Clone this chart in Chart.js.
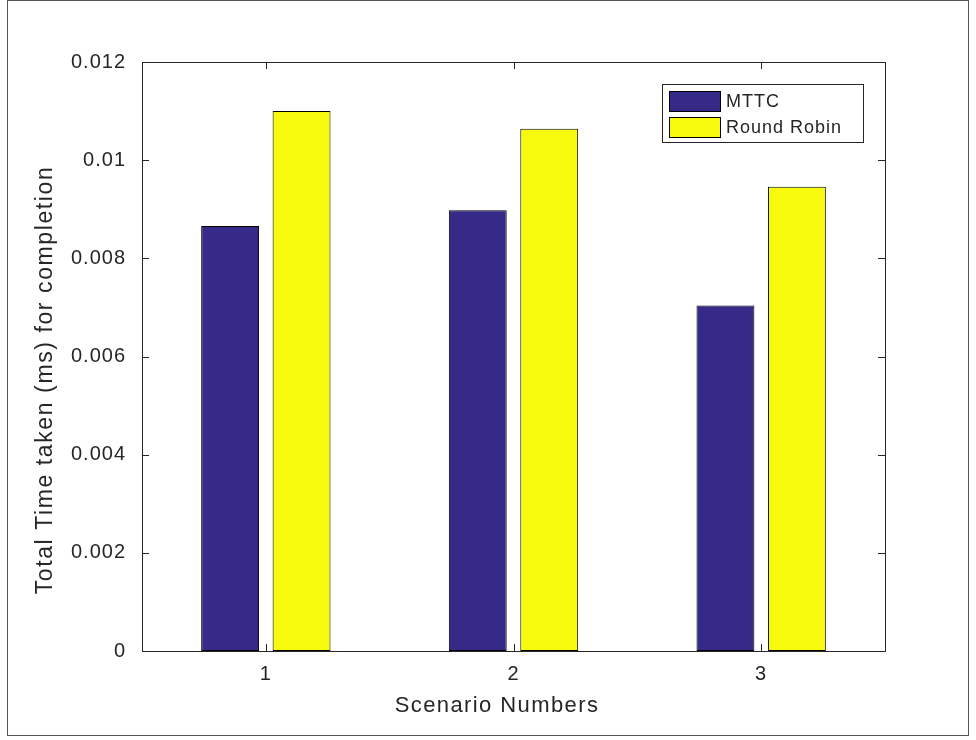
<!DOCTYPE html>
<html>
<head>
<meta charset="utf-8">
<script src="https://cdn.jsdelivr.net/npm/chart.js@4"></script>
<style>
  html, body { margin: 0; padding: 0; background: #ffffff; }
  #wrap { width: 976px; height: 740px; position: relative; }
</style>
</head>
<body>
<div id="wrap"><canvas id="c" width="976" height="740"></canvas></div>
<script>
// ---- data ----
const categories = ['1', '2', '3'];
const seriesNames = ['MTTC', 'Round Robin'];
const mttcValues = [0.00866, 0.00898, 0.00704];
const roundRobinValues = [0.0110, 0.01064, 0.00946];
const yTickValues = [0, 0.002, 0.004, 0.006, 0.008, 0.01, 0.012];
const yTickLabels = ['0', '0.002', '0.004', '0.006', '0.008', '0.01', '0.012'];
const xTitle = 'Scenario Numbers';
const yTitle = 'Total Time taken (ms) for completion';

const FONT = "'Liberation Sans', Arial, Helvetica, sans-serif";
const TEXT = '#262626';
const AXIS = '#262626';
const SPACING = '1px';

const spacingPlugin = {
  id: 'spacing',
  beforeLayout(chart) { chart.ctx.letterSpacing = SPACING; },
  beforeDraw(chart) { chart.ctx.letterSpacing = SPACING; }
};

const framePlugin = {
  id: 'frame',
  afterDatasetsDraw(chart) {
    const ctx = chart.ctx;
    const a = chart.chartArea;
    const xs = chart.scales.x, ys = chart.scales.y;
    const tl = 7;
    ctx.save();
    ctx.strokeStyle = AXIS;
    ctx.lineWidth = 1;
    ctx.strokeRect(Math.round(a.left) + 0.5, Math.round(a.top) + 0.5,
                   Math.round(a.right - a.left), Math.round(a.bottom - a.top));
    ctx.beginPath();
    yTickValues.forEach(v => {
      const y = Math.round(ys.getPixelForValue(v)) + 0.5;
      ctx.moveTo(a.left, y); ctx.lineTo(a.left + tl, y);
      ctx.moveTo(a.right, y); ctx.lineTo(a.right - tl, y);
    });
    categories.forEach((c, i) => {
      const x = Math.round(xs.getPixelForValue(i)) + 0.5;
      ctx.moveTo(x, a.bottom); ctx.lineTo(x, a.bottom - tl);
      ctx.moveTo(x, a.top); ctx.lineTo(x, a.top + tl);
    });
    ctx.stroke();

    // outer figure frame
    ctx.strokeStyle = '#555555';
    ctx.strokeRect(7.5, 0.5, 961, 735);

    // axis titles (MATLAB places them slightly off-centre)
    ctx.fillStyle = TEXT;
    ctx.textAlign = 'center';
    ctx.textBaseline = 'middle';
    ctx.font = "22px " + FONT;
    ctx.letterSpacing = '1.4px';
    ctx.fillText(xTitle, a.left + 355, a.bottom + 55);
    ctx.save();
    ctx.translate(a.left - 96, a.top + 318);
    ctx.rotate(-Math.PI / 2);
    ctx.font = "23px " + FONT;
    ctx.letterSpacing = '1.6px';
    ctx.fillText(yTitle, 0, 0);
    ctx.restore();

    // legend (from dataset labels/colours)
    const lx = a.right - 223, ly = a.top + 22, lw = 201, lh = 58;
    ctx.fillStyle = '#ffffff';
    ctx.fillRect(lx, ly, lw, lh);
    ctx.strokeStyle = AXIS;
    ctx.strokeRect(Math.round(lx) + 0.5, Math.round(ly) + 0.5, lw, lh);
    ctx.font = "18px " + FONT;
    ctx.letterSpacing = '1px';
    ctx.textBaseline = 'middle';
    ctx.textAlign = 'left';
    chart.data.datasets.forEach((ds, i) => {
      const sy = ly + 7 + i * 26;
      ctx.fillStyle = ds.backgroundColor;
      ctx.fillRect(lx + 7, sy, 51, 20);
      ctx.strokeStyle = '#000000';
      ctx.strokeRect(Math.round(lx + 7) + 0.5, Math.round(sy) + 0.5, 51, 20);
      ctx.fillStyle = TEXT;
      ctx.fillText(ds.label, lx + 64, sy + 11);
    });
    ctx.restore();
  }
};

new Chart(document.getElementById('c'), {
  type: 'bar',
  data: {
    labels: categories,
    datasets: [
      { label: seriesNames[0], data: mttcValues, backgroundColor: '#352a87',
        borderColor: '#000000', borderWidth: 1, borderSkipped: false },
      { label: seriesNames[1], data: roundRobinValues, backgroundColor: '#f8fa0d',
        borderColor: '#000000', borderWidth: 1, borderSkipped: false }
    ]
  },
  options: {
    responsive: false,
    animation: false,
    devicePixelRatio: 1,
    categoryPercentage: 0.577,
    barPercentage: 0.81,
    layout: { padding: { top: 62, right: 91, left: 0, bottom: 0 } },
    plugins: { legend: { display: false }, tooltip: { enabled: false }, title: { display: false } },
    scales: {
      x: {
        type: 'category',
        offset: true,
        grid: { display: false, drawTicks: false },
        border: { display: false },
        ticks: { color: TEXT, font: { family: FONT, size: 20 }, padding: 11, maxRotation: 0 },
        title: { display: false },
        afterFit(s) { s.height = 89; }
      },
      y: {
        min: 0, max: 0.012,
        grid: { display: false, drawTicks: false },
        border: { display: false },
        afterBuildTicks(s) { s.ticks = yTickValues.map(v => ({ value: v })); },
        ticks: {
          color: TEXT, font: { family: FONT, size: 20 }, padding: 16,
          callback(value, index) { return yTickLabels[index]; }
        },
        title: { display: false },
        afterFit(s) { s.width = 142; }
      }
    }
  },
  plugins: [spacingPlugin, framePlugin]
});
</script>
</body>
</html>
